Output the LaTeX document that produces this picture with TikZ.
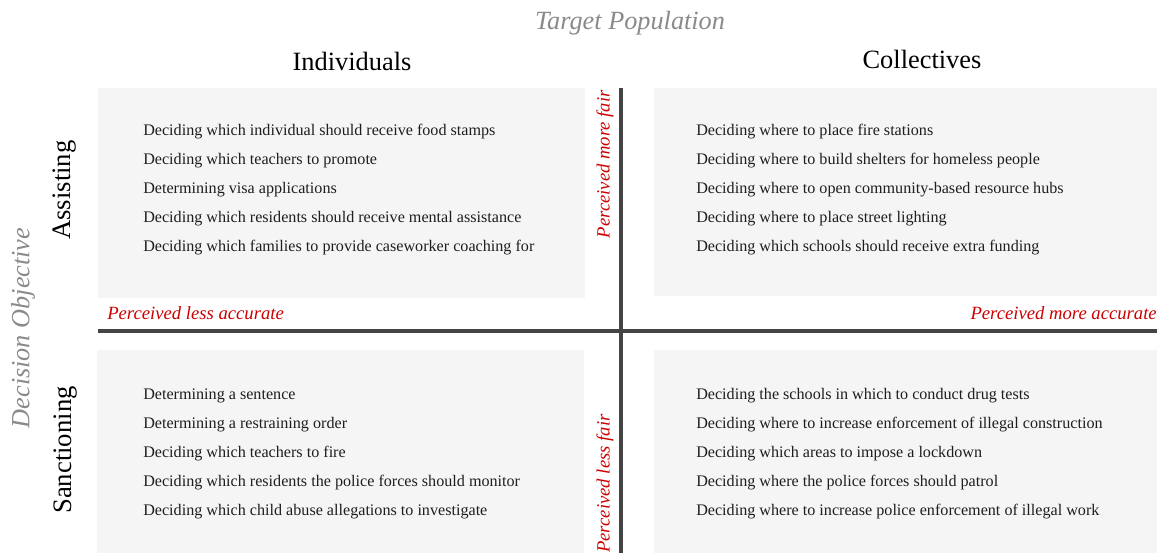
\documentclass[tikz,border=0pt]{standalone}
\usepackage{fontspec}
\setmainfont{Liberation Serif}
\definecolor{boxgray}{HTML}{F5F5F5}
\definecolor{linegray}{HTML}{444444}
\definecolor{axisred}{HTML}{CC0000}
\definecolor{titlegray}{HTML}{8A8A8A}
\definecolor{textdark}{HTML}{1E1E1E}
\begin{document}
\begin{tikzpicture}[x=0.75pt,y=-0.75pt,
  quad/.style={fill=boxgray, draw=none},
  axis/.style={draw=linegray, line width=3pt},
  item/.style={anchor=base west, inner sep=0pt, text=textdark, font=\fontsize{12.1}{14}\selectfont},
  colhead/.style={inner sep=0pt, font=\fontsize{19.8}{22}\selectfont},
  rowhead/.style={inner sep=0pt, rotate=90, font=\fontsize{20}{22}\selectfont},
  dimtitle/.style={inner sep=0pt, text=titlegray, font=\fontsize{19.7}{22}\selectfont\itshape},
  perc/.style={inner sep=0pt, text=axisred, font=\fontsize{14}{16}\selectfont\itshape}]
\useasboundingbox (0,0) rectangle (1157,553);
% quadrant backgrounds
\path[quad] (98,88) rectangle (585,298);
\path[quad] (654,88) rectangle (1157,296);
\path[quad] (97,350) rectangle (584,553);
\path[quad] (654,350) rectangle (1157,553);
% axes
\coordinate (vtop) at (621,88);
\coordinate (vbot) at (621,553);
\coordinate (hleft) at (98,331);
\coordinate (hright) at (1157,331);
\draw[axis] (vtop) -- (vbot);
\draw[axis] (hleft) -- (hright);
% titles
\node[dimtitle] (tp) at (630,23) {Target Population};
\node[dimtitle, rotate=90] (dob) at (23,328) {Decision Objective};
\node[colhead] (ind) at (352,61) {Individuals};
\node[colhead] (col) at (922,59) {Collectives};
\node[rowhead] (ass) at (65,190) {Assisting};
\node[rowhead] (san) at (66,450) {Sanctioning};
% perception labels
\node[perc, anchor=west] (pla) at (107,313) {Perceived less accurate};
\node[perc, anchor=east] (pma) at (1157,313) {Perceived more accurate};
\node[perc, rotate=90, anchor=east] (pmf) at (605,90) {Perceived more fair};
\node[perc, rotate=90, anchor=west] (plf) at (605,553) {Perceived less fair};
% items: individuals / assisting
\node[item] (a1) at (143,135) {Deciding which individual should receive food stamps};
\node[item] (a2) at (143,164) {Deciding which teachers to promote};
\node[item] (a3) at (143,193) {Determining visa applications};
\node[item] (a4) at (143,222) {Deciding which residents should receive mental assistance};
\node[item] (a5) at (143,251) {Deciding which families to provide caseworker coaching for};
% collectives / assisting
\node[item] (b1) at (696,135) {Deciding where to place fire stations};
\node[item] (b2) at (696,164) {Deciding where to build shelters for homeless people};
\node[item] (b3) at (696,193) {Deciding where to open community-based resource hubs};
\node[item] (b4) at (696,222) {Deciding where to place street lighting};
\node[item] (b5) at (696,251) {Deciding which schools should receive extra funding};
% individuals / sanctioning
\node[item] (c1) at (143,399) {Determining a sentence};
\node[item] (c2) at (143,428) {Determining a restraining order};
\node[item] (c3) at (143,457) {Deciding which teachers to fire};
\node[item] (c4) at (143,486) {Deciding which residents the police forces should monitor};
\node[item] (c5) at (143,515) {Deciding which child abuse allegations to investigate};
% collectives / sanctioning
\node[item] (d1) at (696,399) {Deciding the schools in which to conduct drug tests};
\node[item] (d2) at (696,428) {Deciding where to increase enforcement of illegal construction};
\node[item] (d3) at (696,457) {Deciding which areas to impose a lockdown};
\node[item] (d4) at (696,486) {Deciding where the police forces should patrol};
\node[item] (d5) at (696,515) {Deciding where to increase police enforcement of illegal work};
\end{tikzpicture}
\end{document}
